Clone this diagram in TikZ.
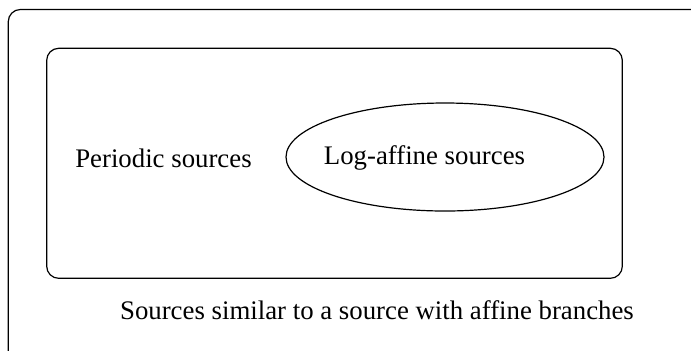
\documentclass[tikz,border=0pt]{standalone}
\usepackage{fontspec}
\setmainfont{Liberation Serif}
\usetikzlibrary{shapes.geometric}

\tikzset{setbox/.style={draw,line width=0.6pt,rounded corners=6pt},
  lab/.style={font=\fontsize{13.4}{16}\selectfont,inner sep=0pt}}

\begin{document}
\begin{tikzpicture}[x=0.5pt,y=-0.5pt]
\useasboundingbox (0,0) rectangle (691,350);
\clip (0,0) rectangle (691,350);
% outer set, runs off the page
\draw[setbox] (8.3,9.5) rectangle (720,380);
% inner set
\draw[setbox] (46.7,48.3) rectangle (622.3,278.3);
\node[draw,ellipse,line width=0.6pt,minimum width=159pt,minimum height=54pt] (logaff) at (445,157) {};
\node[lab] (periodic) at (163.5,158) {Periodic sources};
\node[lab] (logtext) at (424.5,158) {Log-affine sources};
\node[lab] (similar) at (377,310) {Sources similar to a source with affine branches};
\end{tikzpicture}
\end{document}
